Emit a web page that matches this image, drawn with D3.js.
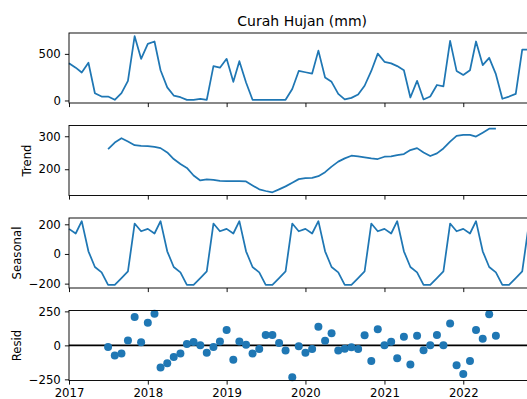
<!DOCTYPE html>
<html>
<head>
<meta charset="utf-8">
<script src="https://cdn.jsdelivr.net/npm/d3@7"></script>
<style>
  body { margin: 0; background: #fff; }
  svg { display: block; font-family: "DejaVu Sans", sans-serif; }
</style>
</head>
<body>
<svg width="527" height="399"></svg>
<script>
// Monthly series, Jan 2017 .. Dec 2022 (72 months)
const firstYear = 2017;

const observed = [
  400, 352, 300, 405, 78, 42, 42, 7, 78, 211, 690, 447,
  608, 633, 324, 141, 53, 35, 7, 7, 18, 7, 369, 352,
  447, 200, 422, 193, 7, 7, 7, 7, 7, 7, 123, 317,
  303, 289, 535, 247, 200, 71, 11, 28, 64, 158, 317, 503,
  415, 398, 369, 324, 32, 211, 11, 42, 166, 152, 640, 317,
  274, 324, 633, 380, 458, 282, 18, 42, 71, 545, 545, 480
];

const trend = [
  null, null, null, null, null, null, 261, 281, 294, 284, 273, 271,
  270, 268, 264, 251, 231, 216, 204, 181, 166, 169, 168, 165,
  164, 164, 164, 163, 151, 139, 134, 130, 139, 148, 159, 170,
  173, 174, 179, 191, 208, 223, 233, 241, 239, 236, 233, 231,
  238, 239, 243, 246, 258, 264, 251, 240, 248, 263, 284, 301,
  304, 304, 299, 311, 323, 323, null, null, null, null, null, null
];

const seasonal = [
  169, 138, 221, 18, -88, -124, -208, -208, -163, -118, 205, 153,
  169, 138, 221, 18, -88, -124, -208, -208, -163, -118, 205, 153,
  169, 138, 221, 18, -88, -124, -208, -208, -163, -118, 205, 153,
  169, 138, 221, 18, -88, -124, -208, -208, -163, -118, 205, 153,
  169, 138, 221, 18, -88, -124, -208, -208, -163, -118, 205, 153,
  169, 138, 221, 18, -88, -124, -208, -208, -163, -118, 205, 153
];

const resid = [
  null, null, null, null, null, null, -12, -74, -60, 36, 209, 22,
  166, 233, -163, -132, -86, -60, 10, 24, 0, -55, -12, 29,
  113, -105, 29, 5, -60, -26, 77, 77, 17, -38, -235, -7,
  -55, -26, 137, 34, 89, -38, -24, -14, -26, 75, -115, 118,
  0, 27, -94, 63, -141, 70, -36, 0, 77, 0, 161, -146,
  -211, -115, 113, 48, 228, 70, null, null, null, null, null, null
];

const yearTicks = [2017, 2018, 2019, 2020, 2021, 2022];
const observedTicks = [0, 500];
const trendTicks = [200, 300];
const seasonalTicks = [-200, 0, 200];
const residTicks = [-250, 0, 250];

const title = "Curah Hujan (mm)";

// layout (matplotlib-ish, ~84 dpi)
const left = 69;
const right = 535.4;
const panelTop = 33;
const panelH = 70;
const panelGap = 22.5;
const blue = "#1f77b4";
const fontSize = 11.7;
const tickLen = 4.1;
const tickPad = 4.1;
const lineW = 1.75;
const spineW = 0.93;

const dates = observed.map((d, i) => new Date(Date.UTC(firstYear, i, 1)));

const svg = d3.select("svg");

const xScale = d3
  .scaleUtc()
  .domain([dates[0], dates[dates.length - 1]])
  .range([left, right]);

const panels = [
  { values: observed, ticks: observedTicks, kind: "line", label: null },
  { values: trend, ticks: trendTicks, kind: "line", label: "Trend" },
  { values: seasonal, ticks: seasonalTicks, kind: "line", label: "Seasonal" },
  { values: resid, ticks: residTicks, kind: "dots", label: "Resid" }
];

panels.forEach((p, k) => {
  const top = panelTop + k * (panelH + panelGap);
  const bottom = top + panelH;

  // y limits with 5% margins like matplotlib
  const vals = p.values.filter(v => v != null);
  const lo = d3.min(vals);
  const hi = d3.max(vals);
  const m = (hi - lo) * 0.05;
  const yScale = d3
    .scaleLinear()
    .domain([lo - m, hi + m])
    .range([bottom, top]);

  const g = svg.append("g");

  if (p.kind === "line") {
    const line = d3
      .line()
      .defined(d => d.v != null)
      .x(d => xScale(d.date))
      .y(d => yScale(d.v));
    g.append("path")
      .datum(dates.map((date, i) => ({ date, v: p.values[i] })))
      .attr("fill", "none")
      .attr("stroke", blue)
      .attr("stroke-width", lineW)
      .attr("stroke-linejoin", "round")
      .attr("d", line);
  } else {
    // zero line behind the markers
    g.append("line")
      .attr("x1", left)
      .attr("x2", right)
      .attr("y1", yScale(0))
      .attr("y2", yScale(0))
      .attr("stroke", "#000")
      .attr("stroke-width", lineW);
    g.selectAll("circle")
      .data(dates.map((date, i) => ({ date, v: p.values[i] })).filter(d => d.v != null))
      .enter()
      .append("circle")
      .attr("cx", d => xScale(d.date))
      .attr("cy", d => yScale(d.v))
      .attr("r", 4)
      .attr("fill", blue);
  }

  // frame
  g.append("rect")
    .attr("x", left)
    .attr("y", top)
    .attr("width", right - left)
    .attr("height", panelH)
    .attr("fill", "none")
    .attr("stroke", "#000")
    .attr("stroke-width", spineW);

  // x axis ticks (labels only on the last panel)
  const xAxis = g
    .append("g")
    .attr("transform", `translate(0, ${bottom})`)
    .call(
      d3
        .axisBottom(xScale)
        .tickValues(yearTicks.map(y => new Date(Date.UTC(y, 0, 1))))
        .tickSize(tickLen)
        .tickPadding(tickPad)
        .tickFormat(k === panels.length - 1 ? d3.utcFormat("%Y") : "")
    );

  // y axis
  const yAxis = g
    .append("g")
    .attr("transform", `translate(${left}, 0)`)
    .call(
      d3
        .axisLeft(yScale)
        .tickValues(p.ticks)
        .tickSize(tickLen)
        .tickPadding(tickPad)
    );

  [xAxis, yAxis].forEach(a => {
    a.select(".domain").remove();
    a.attr("font-family", null).attr("font-size", fontSize);
    a.selectAll(".tick line").attr("stroke", "#000").attr("stroke-width", spineW);
    a.selectAll(".tick text").attr("fill", "#000");
  });

  if (p.label) {
    const bb = yAxis.node().getBBox();
    const lx = left + bb.x - 4.7 - 0.24 * fontSize;
    const ly = (top + bottom) / 2;
    g.append("text")
      .attr("x", lx)
      .attr("y", ly)
      .attr("transform", `rotate(-90, ${lx}, ${ly})`)
      .attr("text-anchor", "middle")
      .attr("font-size", fontSize)
      .attr("fill", "#000")
      .text(p.label);
  } else {
    g.append("text")
      .attr("x", (left + right) / 2)
      .attr("y", top - 7)
      .attr("text-anchor", "middle")
      .attr("font-size", 14)
      .attr("fill", "#000")
      .text(title);
  }
});
</script>
</body>
</html>
